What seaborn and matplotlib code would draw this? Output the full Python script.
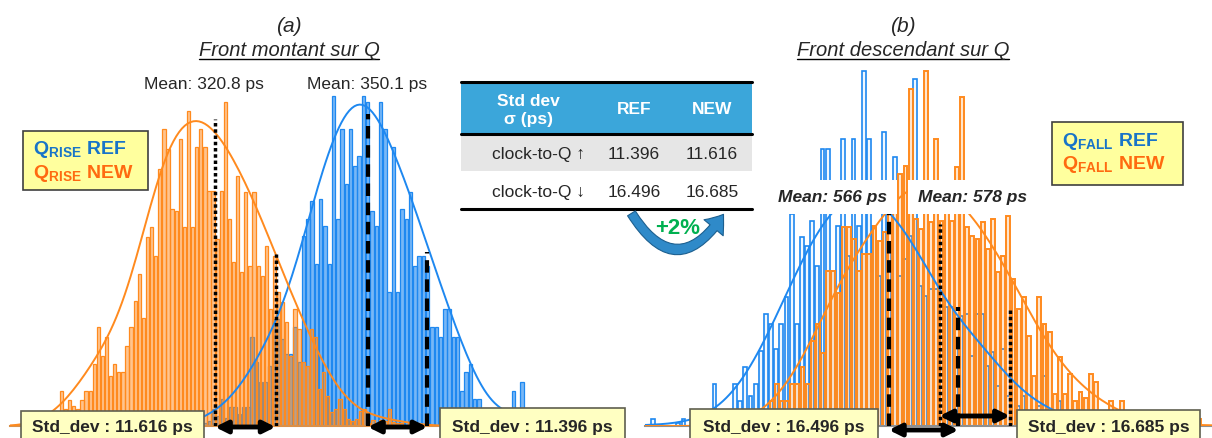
import numpy as np
import pandas as pd
import matplotlib
matplotlib.use("Agg")
import matplotlib.pyplot as plt
import matplotlib.colors as mcolors
import seaborn as sns
from matplotlib.patches import Rectangle, FancyArrowPatch
from matplotlib.lines import Line2D

# ---------------- DATA ----------------
# (a) rising edge on Q, counts per bin
RISE_NEW_START, RISE_NEW_WIDTH = 291.0, 0.785
RISE_NEW_COUNTS = [35, 17, 26, 20, 17, 26, 35, 35, 62, 99,
                   70, 89, 50, 62, 54, 54, 80, 99, 125, 152,
                   108, 189, 199, 170, 257, 297, 277, 217, 215, 287,
                   199, 315, 199, 279, 297, 279, 235, 235, 187, 235,
                   324, 207, 164, 250, 154, 234, 160, 234, 160, 150,
                   180, 117, 170, 134, 124, 104, 70, 117, 97, 64,
                   60, 97, 89, 37, 54, 30, 14, 17, 27, 17,
                   7, 5, 7, 15, 17, 3, 6, 0, 6, 5,
                   17, 4, 3, 3, 0, 3, 0]
RISE_REF_START, RISE_REF_WIDTH = 318.5, 0.82
RISE_REF_COUNTS = [3, 5, 17, 10, 27, 8, 19, 19, 12, 19,
                   19, 89, 64, 44, 44, 60, 107, 107, 87, 72,
                   72, 99, 64, 190, 207, 225, 162, 227, 200, 162,
                   330, 207, 297, 242, 297, 260, 270, 330, 324, 215,
                   200, 324, 297, 134, 279, 134, 217, 207, 234, 160,
                   170, 170, 160, 99, 99, 89, 117, 117, 89, 89,
                   35, 54, 62, 27, 27, 3, 0, 4, 0, 2,
                   0, 0, 35, 0, 44]

# (b) falling edge on Q, counts per bin
FALL_REF_START, FALL_REF_WIDTH = 508.2, 1.22
FALL_REF_COUNTS = [0, 7, 0, 0, 0, 0, 3, 7, 0, 0,
                   0, 3, 0, 42, 0, 12, 0, 42, 25, 59,
                   30, 42, 75, 112, 102, 77, 102, 129, 212, 102,
                   189, 180, 205, 160, 277, 277, 155, 200, 287, 170,
                   287, 200, 355, 287, 200, 150, 294, 180, 269, 150,
                   167, 190, 347, 140, 130, 137, 137, 90, 119, 119,
                   80, 110, 112, 70, 112, 112, 60, 74, 40, 77,
                   30, 45, 20, 30, 10, 15, 20, 50, 10, 5,
                   25, 0, 5]
FALL_NEW_START, FALL_NEW_WIDTH = 537.6, 1.22
FALL_NEW_COUNTS = [25, 42, 25, 25, 42, 42, 59, 42, 85, 102,
                   73, 155, 155, 133, 199, 199, 187, 155, 172, 172,
                   200, 185, 194, 234, 240, 252, 260, 337, 207, 197,
                   355, 204, 287, 205, 215, 205, 259, 329, 199, 190,
                   187, 204, 177, 207, 154, 170, 210, 147, 117, 129,
                   90, 50, 129, 102, 94, 32, 69, 32, 52, 25,
                   34, 28, 52, 44, 10, 5, 25, 5, 25, 0,
                   5, 0, 8, 0, 5, 0, 3, 0, 0, 3,
                   0, 0, 0, 7]

# statistics: index 0 = rising edge, 1 = falling edge
MEAN_REF = [350.1, 566]
MEAN_NEW = [320.8, 578]
STD_REF = [11.396, 16.496]
STD_NEW = [11.616, 16.685]
TABLE_ROWS = ["clock-to-Q \u2191", "clock-to-Q \u2193"]
TABLE_COLS = ["REF", "NEW"]
GAIN = "+2%"

BLUE = "#1E88F0"
ORANGE = "#FF8A1E"
W, H = 1212, 439

sns.set_style("white")
plt.rcParams["font.family"] = ["Liberation Sans", "DejaVu Sans"]
plt.rcParams["mathtext.fontset"] = "custom"
plt.rcParams["mathtext.rm"] = "Liberation Sans"
plt.rcParams["mathtext.bf"] = "Liberation Sans:bold"


def F(px, py):
    # pixel position (from top-left) -> figure fraction
    return px / W, 1 - py / H


def draw_hist(ax, start, width, counts, color, face_alpha, lw, shrink, curve_scale=1.0):
    n = len(counts)
    centers = start + width * (np.arange(n) + 0.5)
    df = pd.DataFrame({"x": centers, "w": counts})
    n0 = len(ax.patches)
    l0 = len(ax.lines)
    sns.histplot(data=df, x="x", weights="w", binwidth=width,
                 binrange=(start, start + width * (n - 0.01)), kde=True, color=color,
                 shrink=shrink, ax=ax, kde_kws={"bw_adjust": 0.85, "cut": 3},
                 line_kws={"lw": 1.4})
    for p in ax.patches[n0:]:
        p.set_alpha(None)
        p.set_facecolor(mcolors.to_rgba(color, face_alpha))
        p.set_edgecolor(color)
        p.set_linewidth(lw)
    # fitted curve drawn a bit above the raw density, as in the original
    for ln in ax.lines[l0:]:
        ln.set_ydata(np.asarray(ln.get_ydata()) * curve_scale)
        ln.set_zorder(3)


fig = plt.figure(figsize=(W / 100, H / 100), dpi=100)
ax1 = fig.add_axes([10 / W, 12 / H, 535 / W, 367 / H])
ax2 = fig.add_axes([645 / W, 12 / H, 567 / W, 367 / H])

# ---------------- (a) ----------------
draw_hist(ax1, RISE_REF_START, RISE_REF_WIDTH, RISE_REF_COUNTS, BLUE, 0.6, 0.9, 0.8, 1.25)
draw_hist(ax1, RISE_NEW_START, RISE_NEW_WIDTH, RISE_NEW_COUNTS, ORANGE, 0.5, 0.9, 0.8, 1.25)
ax1.set_xlim(281.53, 384.02)

# ---------------- (b) ----------------
draw_hist(ax2, FALL_REF_START, FALL_REF_WIDTH, FALL_REF_COUNTS, BLUE, 0.06, 1.2, 0.75)
draw_hist(ax2, FALL_NEW_START, FALL_NEW_WIDTH, FALL_NEW_COUNTS, ORANGE, 0.22, 1.4, 0.75)
ax2.set_xlim(508.21, 642.57)

for ax, sc in [(ax1, "#D9904A"), (ax2, "#8F8F8F")]:
    ax.set_ylim(0, 367)
    ax.set_xlabel("")
    ax.set_ylabel("")
    ax.set_xticks([])
    ax.set_yticks([])
    for s in ["left", "right", "top"]:
        ax.spines[s].set_visible(False)
    ax.spines["bottom"].set_color(sc)
    ax.spines["bottom"].set_linewidth(1.5)
    ax.patch.set_alpha(0)

dash = (0, (3, 1.6))
dot = (0, (1, 0.8))
# mean and mean + sigma markers: (axis, x, height, style)
markers = [
    (ax1, MEAN_NEW[0], 307, dot), (ax1, MEAN_NEW[0] + STD_NEW[0], 172, dot),
    (ax1, MEAN_REF[0], 312, dash), (ax1, MEAN_REF[0] + STD_REF[0], 174, dash),
    (ax2, MEAN_REF[1], 244, dash), (ax2, MEAN_REF[1] + STD_REF[1], 119, dash),
    (ax2, MEAN_NEW[1], 202, dot), (ax2, MEAN_NEW[1] + STD_NEW[1], 117, dot),
]
for ax, xv, hv, ls in markers:
    ax.plot([xv, xv], [0, hv], color="black", lw=3 if ls == dash else 2.5,
            linestyle=ls, zorder=4)

arrows = [(ax1, MEAN_NEW[0], STD_NEW[0], -1), (ax1, MEAN_REF[0], STD_REF[0], -1),
          (ax2, MEAN_REF[1], STD_REF[1], -4), (ax2, MEAN_NEW[1], STD_NEW[1], 10)]
for ax, m, s, yv in arrows:
    ax.annotate("", xy=(m, yv), xytext=(m + s, yv), annotation_clip=False,
                arrowprops=dict(arrowstyle="<|-|>", color="black", lw=3.5,
                                mutation_scale=18, shrinkA=0, shrinkB=0), zorder=6)

# ---------------- titles ----------------
titles = []
for cx, tag, sub in [(289, "(a)", "Front montant sur Q"), (903, "(b)", "Front descendant sur Q")]:
    fig.text(*F(cx, 27), tag, style="italic", fontsize=15, ha="center", va="center")
    titles.append(fig.text(*F(cx, 50), sub, style="italic", fontsize=14.5,
                           ha="center", va="center"))

fig.text(*F(204, 84), f"Mean: {MEAN_NEW[0]:.1f} ps", fontsize=12.5, ha="center", va="center")
fig.text(*F(367.5, 84), f"Mean: {MEAN_REF[0]:.1f} ps", fontsize=12.5, ha="center", va="center")
lbl = dict(fontsize=12.5, weight="bold", style="italic", va="center", zorder=8,
           bbox=dict(boxstyle="square,pad=0.55", fc="white", ec="none"))
fig.text(*F(887, 198), f"Mean: {MEAN_REF[1]} ps", ha="right", **lbl)
fig.text(*F(918, 198), f"Mean: {MEAN_NEW[1]} ps", ha="left", **lbl)

# ---------------- legend boxes ----------------
for (x0, y0, x1, y1), sub in [((23, 132, 148, 191), "RISE"), ((1052, 123, 1183, 186), "FALL")]:
    fig.add_artist(Rectangle(F(x0, y1), (x1 - x0) / W, (y1 - y0) / H, transform=fig.transFigure,
                             fc="#FFFF9E", ec="#3F3F3F", lw=1.2, zorder=5))
    fig.text(*F(x0 + 10, y0 + 18), r"$\mathbf{Q}_{\mathbf{%s}}$ REF" % sub, color="#1874C8",
             fontsize=14, weight="bold", va="center", zorder=6)
    fig.text(*F(x0 + 10, y0 + 42), r"$\mathbf{Q}_{\mathbf{%s}}$ NEW" % sub, color="#FF6A10",
             fontsize=14, weight="bold", va="center", zorder=6)

# ---------------- std boxes ----------------
std_boxes = [(20.7, 411.7, 204, STD_NEW[0]), (440, 408.5, 625, STD_REF[0]),
             (690, 410, 878, STD_REF[1]), (1016.7, 410.7, 1200, STD_NEW[1])]
for x0, y0, x1, val in std_boxes:
    fig.add_artist(Rectangle(F(x0, 446), (x1 - x0) / W, (446 - y0) / H, transform=fig.transFigure,
                             fc="#FFFFC2", ec="#5F5F4F", lw=1.2, zorder=5))
    fig.text(*F((x0 + x1) / 2, 428), f"Std_dev : {val:.3f} ps", fontsize=12.5,
             weight="bold", ha="center", va="center", zorder=6)

# ---------------- table ----------------
tx0, tx1 = 460.7, 751.7
fig.add_artist(Rectangle(F(tx0, 135), (tx1 - tx0) / W, 52 / H, transform=fig.transFigure,
                         fc="#3BA6DA", ec="none", zorder=5))
fig.add_artist(Rectangle(F(tx0, 172), (tx1 - tx0) / W, 37 / H, transform=fig.transFigure,
                         fc="#E6E6E6", ec="none", zorder=5))
fig.add_artist(Rectangle(F(tx0, 210), (tx1 - tx0) / W, 38 / H, transform=fig.transFigure,
                         fc="white", ec="none", zorder=5))
for yy, lw in [(83, 2.2), (135, 2.2), (210, 2.2)]:
    fig.add_artist(Line2D([tx0 / W, tx1 / W], [1 - yy / H] * 2, transform=fig.transFigure,
                          color="black", lw=lw, zorder=6))
hdr = dict(color="white", weight="bold", fontsize=12.5, ha="center", va="center", zorder=7)
fig.text(*F(528, 110.5), "Std dev\n\u03c3 (ps)", linespacing=1.25, **hdr)
fig.text(*F(634, 110), TABLE_COLS[0], **hdr)
fig.text(*F(712, 110), TABLE_COLS[1], **hdr)
for yy, row, r, n in zip([155, 192.5], TABLE_ROWS, STD_REF, STD_NEW):
    fig.text(*F(585, yy), row, fontsize=12.5, ha="right", va="center", zorder=7)
    fig.text(*F(634, yy), f"{r:.3f}", fontsize=12.5, ha="center", va="center", zorder=7)
    fig.text(*F(712, yy), f"{n:.3f}", fontsize=12.5, ha="center", va="center", zorder=7)

fig.add_artist(FancyArrowPatch(F(630, 212), F(725, 213), transform=fig.transFigure,
                               connectionstyle="arc3,rad=0.8",
                               arrowstyle="simple,head_width=1.5,head_length=1.0,tail_width=0.55",
                               mutation_scale=12, fc="#2F8AC9", ec="#1C5F8F", lw=0.8, zorder=6))
fig.text(*F(678, 228), GAIN, color="#00B050", fontsize=16, weight="bold",
         ha="center", va="center", zorder=7)

# underline the two panel titles
fig.canvas.draw()
for t in titles:
    bb = t.get_window_extent()
    fig.add_artist(Line2D([bb.x0 / W, bb.x1 / W], [(bb.y0 - 0.5) / H] * 2,
                          transform=fig.transFigure, color="black", lw=1))

fig.savefig("out.png", dpi=100)
